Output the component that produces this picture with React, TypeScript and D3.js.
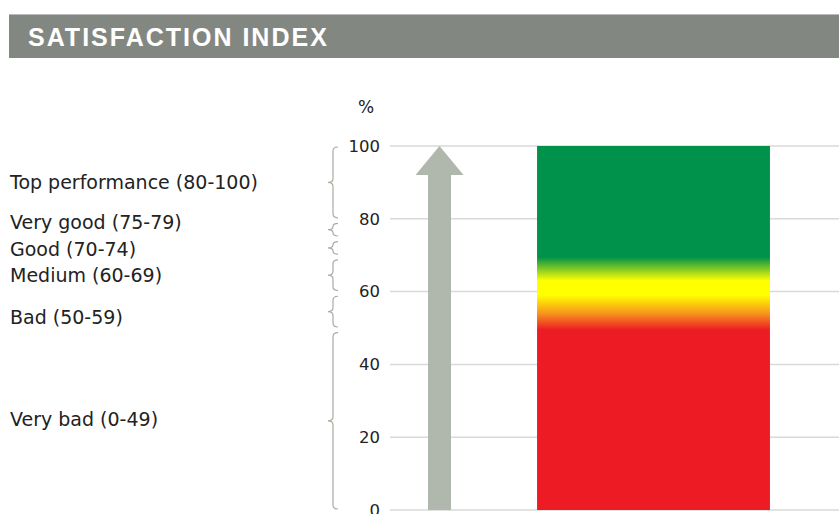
import React from "react";
import * as d3 from "d3";

// satisfaction bands shown with braces on the left
const bandLabels = ["Top performance (80-100)", "Very good (75-79)", "Good (70-74)", "Medium (60-69)", "Bad (50-59)", "Very bad (0-49)"];
const bandLow = [80, 75, 70, 60, 50, 0];
const bandHigh = [100, 79, 74, 69, 59, 49];
const labelAt = [90, 79, 71.5, 64.5, 53, 25];

const yTicks = [0, 20, 40, 60, 80, 100];
const indexCategory = ["Index"];
const indexValue = [100];

// colour ramp along the bar, by value
const rampValues = [0, 49.5, 54, 59, 63, 69.5, 100];
const rampColors = ["#ed1c24", "#ed1c24", "#f7941d", "#ffff00", "#ffff00", "#00924a", "#00924a"];

const W = 839, H = 514;

function bracePath(y1: number, y2: number) {
  const x0 = 338, xs = 333, xt = 328;
  const ym = (y1 + y2) / 2;
  const r = Math.min(4, (y2 - y1) / 4);
  return `M${x0},${y1} Q${xs},${y1} ${xs},${y1 + r} L${xs},${ym - r} Q${xs},${ym} ${xt},${ym} Q${xs},${ym} ${xs},${ym + r} L${xs},${y2 - r} Q${xs},${y2} ${x0},${y2}`;
}

export default function App() {
  const y = d3.scaleLinear().domain([0, 100]).range([510, 146]);
  const x = d3.scaleBand().domain(indexCategory).range([390, 917]).paddingInner(0.387).paddingOuter(0.387);
  const plotLeft = 390;
  const font = "'DejaVu Sans', Verdana, sans-serif";

  const ax = plotLeft + 49.5; // arrow centre
  const tipY = y(100);
  const headY = tipY + 29;
  const arrow = `M${ax},${tipY} L${ax + 24},${headY} L${ax + 11.5},${headY} L${ax + 11.5},${y(0)} L${ax - 11.5},${y(0)} L${ax - 11.5},${headY} L${ax - 24},${headY} Z`;

  return (
    <svg width={W} height={H} style={{ position: "absolute", left: 0, top: 0 }}>
      <defs>
        <linearGradient id="ramp" gradientUnits="userSpaceOnUse" x1={0} x2={0} y1={y(0)} y2={y(100)}>
          {rampValues.map((v, i) => (
            <stop key={i} offset={`${v}%`} stopColor={rampColors[i]} />
          ))}
        </linearGradient>
      </defs>
      <rect x={9} y={14} width={W - 9} height={44} fill="#838781" />
      <line x1={9} x2={W} y1={14.5} y2={14.5} stroke="#b8bbb6" />
      <text x={28} y={46} fill="#fff" fontFamily="'Liberation Sans', Arial, sans-serif" fontWeight="bold" fontSize={25} letterSpacing={2}>
        SATISFACTION INDEX
      </text>

      {yTicks.map(t => (
        <g key={t}>
          <line x1={plotLeft} x2={W} y1={y(t)} y2={y(t)} stroke="#d9d9d6" strokeWidth={1.5} />
          <text x={380} y={y(t)} dy="0.35em" textAnchor="end" fontFamily={font} fontSize={16.5} fill="#222">
            {t}
          </text>
        </g>
      ))}
      <text x={366} y={107} dy="0.35em" textAnchor="middle" fontFamily={font} fontSize={17} fill="#222">%</text>

      <path d={arrow} fill="#b0b8ad" />

      {indexValue.map((v, i) => (
        <rect key={i} x={x(indexCategory[i])} y={y(v)} width={x.bandwidth()} height={y(0) - y(v)} fill="url(#ramp)" />
      ))}

      {bandLabels.map((lab, i) => (
        <g key={lab}>
          <path d={bracePath(y(bandHigh[i]) + 1, y(bandLow[i]) - 1)} fill="none" stroke="#a6ada2" strokeWidth={1.2} />
          <text x={10} y={y(labelAt[i])} dy="0.35em" fontFamily={font} fontSize={19} fill="#222">
            {lab}
          </text>
        </g>
      ))}
    </svg>
  );
}
